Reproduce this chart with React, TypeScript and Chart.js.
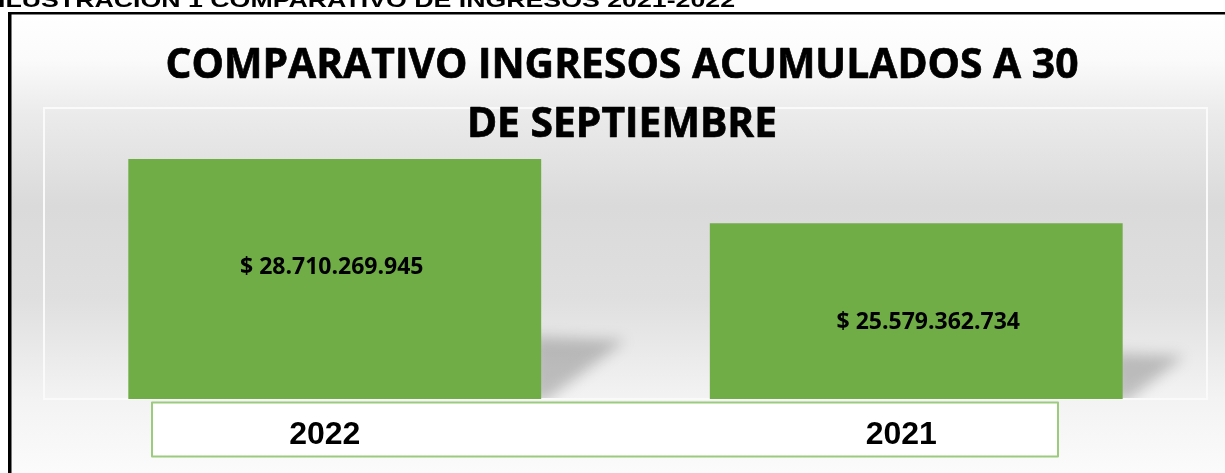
import React, { useEffect, useRef } from "react";
import { Chart, registerables } from "chart.js";

Chart.register(...registerables);

// ---- data ----
const categories: string[] = ["2022", "2021"];
const ingresos: number[] = [28710269945, 25579362734];
const valueLabels: string[] = ["$ 28.710.269.945", "$ 25.579.362.734"];
const titleLines: string[] = ["COMPARATIVO INGRESOS ACUMULADOS A 30", "DE SEPTIEMBRE"];
const caption = "ILUSTRACIÓN 1 COMPARATIVO DE INGRESOS 2021-2022";

// ---- style ----
const W = 1225;
const H = 473;
const BAR_COLOR = "#70AD47";
const BOX_BORDER = "#9CCB7E";
const Y_MIN = 17.0e9;
const Y_MAX = 31.2e9;
const VALUE_LABEL_NUDGE = [
  { dx: -3, frac: 0.448 },
  { dx: 12, frac: 0.557 },
];
const CAT_LABEL_NUDGE = [-10, -15];

function barGeom(chart: any) {
  const xs = chart.scales.x;
  const ys = chart.scales.y;
  const ca = chart.chartArea;
  const band = (ca.right - ca.left) / categories.length;
  const bw = band * 0.71;
  return ingresos.map((v, i) => {
    const cx = xs.getPixelForValue(i);
    return { x: cx, left: cx - bw / 2, right: cx + bw / 2, top: ys.getPixelForValue(v), base: ca.bottom };
  });
}

const decorPlugin = {
  id: "decor",
  beforeDraw(chart: any) {
    const ctx = chart.ctx as CanvasRenderingContext2D;
    const ca = chart.chartArea;
    ctx.save();
    ctx.fillStyle = "#ffffff";
    ctx.fillRect(0, 0, W, H);
    const g = ctx.createLinearGradient(0, 12, 0, H);
    g.addColorStop(0, "#ffffff");
    g.addColorStop(0.1, "#fbfbfb");
    g.addColorStop(0.22, "#ebebeb");
    g.addColorStop(0.42, "#dadada");
    g.addColorStop(0.62, "#dfdfdf");
    g.addColorStop(0.84, "#f3f3f3");
    g.addColorStop(1, "#fbfbfb");
    ctx.fillStyle = g;
    ctx.fillRect(8, 12, W - 8, H - 12);
    ctx.strokeStyle = "#fafafa";
    ctx.lineWidth = 2;
    ctx.strokeRect(ca.left, ca.top, ca.right - ca.left, ca.bottom - ca.top);
    // shadows behind bars
    ctx.beginPath();
    ctx.rect(ca.left, ca.top, ca.right - ca.left, ca.bottom - ca.top - 1);
    ctx.clip();
    barGeom(chart).forEach((b) => {
      const h = b.base - b.top;
      ctx.save();
      ctx.filter = "blur(7px)";
      ctx.fillStyle = "rgba(0,0,0,0.21)";
      ctx.beginPath();
      ctx.moveTo(b.right - 10, b.base - h * 0.26);
      ctx.lineTo(b.right + h * 0.35, b.base - h * 0.245);
      ctx.lineTo(b.right + 4, b.base + 2);
      ctx.lineTo(b.right - 10, b.base + 2);
      ctx.closePath();
      ctx.fill();
      ctx.restore();
    });
    ctx.restore();
  },
  afterDraw(chart: any) {
    const ctx = chart.ctx as CanvasRenderingContext2D;
    const xs = chart.scales.x;
    ctx.save();
    // value labels
    ctx.fillStyle = "#000000";
    ctx.strokeStyle = "#000000";
    ctx.font = "bold 23px 'Open Sans'";
    ctx.textAlign = "center";
    ctx.textBaseline = "middle";
    barGeom(chart).forEach((b, i) => {
      const n = VALUE_LABEL_NUDGE[i];
      const y = b.top + (b.base - b.top) * n.frac;
      ctx.save();
      ctx.translate(b.x + n.dx, y);
      ctx.scale(1.0, 1);
      ctx.fillText(valueLabels[i], 0, 1);
      ctx.restore();
    });
    // caption (cut at the top)
    ctx.font = "bold 20px 'Liberation Sans'";
    ctx.textBaseline = "alphabetic";
    ctx.textAlign = "left";
    const cw = ctx.measureText(caption).width;
    ctx.save();
    ctx.translate(-2, 7);
    ctx.scale(737 / cw, 1);
    ctx.fillText(caption, 0, 0);
    ctx.restore();
    // outer border
    ctx.fillRect(8, 12, W - 8, 2.5);
    ctx.fillRect(8, 12, 3.5, H - 12);
    // title
    ctx.font = "bold 41px 'Open Sans'";
    ctx.textAlign = "center";
    ctx.lineWidth = 0.7;
    ctx.lineJoin = "round";
    const tw = ctx.measureText(titleLines[0]).width;
    const sx = 913 / tw;
    const baselines = [78, 137];
    titleLines.forEach((t, i) => {
      ctx.save();
      ctx.translate(622, baselines[i]);
      ctx.scale(sx, 1);
      ctx.fillText(t, 0, 0);
      ctx.strokeText(t, 0, 0);
      ctx.restore();
    });
    // category label box
    ctx.fillStyle = "#ffffff";
    ctx.fillRect(152, 402.5, 906, 54);
    ctx.strokeStyle = BOX_BORDER;
    ctx.lineWidth = 2;
    ctx.strokeRect(152, 402.5, 906, 54);
    ctx.fillStyle = "#000000";
    ctx.font = "bold 32px 'Liberation Sans'";
    categories.forEach((c, i) => {
      const x = xs.getPixelForValue(i) + CAT_LABEL_NUDGE[i];
      ctx.fillText(c, x, 444);
    });
    ctx.restore();
  },
};

export default function App() {
  const ref = useRef<HTMLCanvasElement | null>(null);
  useEffect(() => {
    if (!ref.current) return;
    const chart = new Chart(ref.current, {
      type: "bar",
      data: {
        labels: categories,
        datasets: [
          {
            data: ingresos,
            backgroundColor: BAR_COLOR,
            borderWidth: 0,
            barPercentage: 0.71,
            categoryPercentage: 1,
          },
        ],
      },
      options: {
        responsive: false,
        animation: false,
        devicePixelRatio: 1,
        layout: { padding: { left: 44, right: 18, top: 108, bottom: 74 } },
        plugins: {
          legend: { display: false },
          tooltip: { enabled: false },
          title: { display: false },
        },
        scales: {
          x: { display: false },
          y: { display: false, min: Y_MIN, max: Y_MAX },
        },
      },
      plugins: [decorPlugin],
    });
    return () => chart.destroy();
  }, []);
  return (
    <div style={{ position: "fixed", left: 0, top: 0, width: W, height: H }}>
      <canvas ref={ref} width={W} height={H} style={{ width: W, height: H, display: "block" }} />
    </div>
  );
}
